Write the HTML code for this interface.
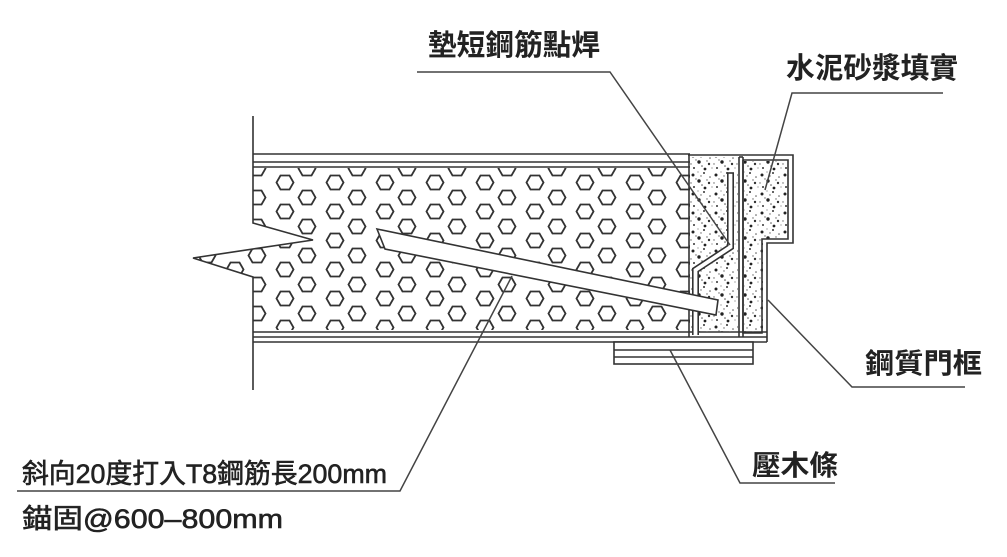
<!DOCTYPE html>
<html><head><meta charset="utf-8"><style>
html,body{margin:0;padding:0;background:#fff;}
svg{display:block;}
text{font-family:"Liberation Sans","Noto Sans CJK TC","Noto Sans CJK SC",sans-serif;fill:#222;}
</style></head><body>
<svg width="1007" height="557" viewBox="0 0 1007 557" xmlns="http://www.w3.org/2000/svg">
<defs>
<pattern id="hex" patternUnits="userSpaceOnUse" x="257" y="168.5" width="50" height="29">
<polygon points="20.5,7 29.5,7 33.5,14 29.5,21 20.5,21 16.5,14" fill="none" stroke="#333" stroke-width="1.8" transform="translate(3,0)"/>
<polygon points="-4.5,-7 4.5,-7 8.5,0 4.5,7 -4.5,7 -8.5,0" fill="none" stroke="#333" stroke-width="1.8"/>
<polygon points="45.5,-7 54.5,-7 58.5,0 54.5,7 45.5,7 41.5,0" fill="none" stroke="#333" stroke-width="1.8"/>
<polygon points="-4.5,22 4.5,22 8.5,29 4.5,36 -4.5,36 -8.5,29" fill="none" stroke="#333" stroke-width="1.8"/>
<polygon points="45.5,22 54.5,22 58.5,29 54.5,36 45.5,36 41.5,29" fill="none" stroke="#333" stroke-width="1.8"/>
</pattern>
<pattern id="dots" patternUnits="userSpaceOnUse" width="23" height="19">
<circle cx="3" cy="4" r="1.5" fill="#222"/><circle cx="14" cy="2" r="1" fill="#333"/>
<circle cx="9" cy="10" r="1.7" fill="#222"/><circle cx="19" cy="12" r="1.2" fill="#333"/>
<circle cx="4" cy="16" r="1" fill="#333"/><circle cx="15" cy="17" r="1.4" fill="#222"/>
<circle cx="20" cy="6" r="0.8" fill="#555"/><circle cx="11" cy="5" r="0.7" fill="#666"/>
<circle cx="6" cy="8" r="0.7" fill="#666"/><circle cx="17" cy="9" r="0.7" fill="#666"/>
<circle cx="12" cy="14" r="0.8" fill="#555"/><circle cx="1" cy="12" r="0.7" fill="#666"/>
<circle cx="8" cy="1" r="0.6" fill="#777"/><circle cx="22" cy="16" r="0.6" fill="#777"/>
</pattern>
</defs>

<polygon points="253,168 690,168 690,330 253,330 253,277 193,258 313,240 253,223" fill="url(#hex)" stroke="none"/>
<polyline points="253,116 253,223 313,240 193,258 253,277 253,390" fill="none" stroke="#333" stroke-width="1.6"/>

<g stroke="#333" stroke-width="1.6">
<line x1="253" y1="154" x2="690" y2="154"/>
<line x1="253" y1="162" x2="690" y2="162"/>
<line x1="253" y1="167" x2="690" y2="167"/>
<line x1="253" y1="332" x2="767" y2="332"/>
<line x1="253" y1="337" x2="767" y2="337"/>
<line x1="253" y1="342" x2="767" y2="342"/>
</g>

<rect x="689" y="157" width="49" height="175" fill="url(#dots)"/>
<polygon points="744,161 788,161 788,239 763,239 763,332 744,332" fill="url(#dots)"/>

<g fill="none" stroke="#333" stroke-width="1.6">
<line x1="689" y1="154" x2="689" y2="337"/>
<polyline points="688,155 793,155 793,243 767,243 767,342"/>
<polyline points="743,160 788,160 788,239 762,239 762,333 743,333 743,160"/>
<line x1="739" y1="157" x2="739" y2="337"/>
<line x1="743" y1="157" x2="743" y2="337"/>
<line x1="739" y1="157" x2="743" y2="157"/>
</g>
<polyline points="730.5,173 730.5,247 695.5,270 695.5,335" fill="none" stroke="#333" stroke-width="7"/>
<polyline points="730.5,173 730.5,247 695.5,270 695.5,335" fill="none" stroke="#fff" stroke-width="3.8"/>
<line x1="727" y1="173" x2="734" y2="173" stroke="#333" stroke-width="1.6"/>

<polygon points="377,229 718,300 716,315 385,249" fill="#fff" stroke="#333" stroke-width="1.6"/>

<g stroke="#333" stroke-width="1.6" fill="none">
<rect x="614" y="342" width="139" height="22" fill="#fff"/>
<line x1="614" y1="350" x2="753" y2="350"/>
<line x1="614" y1="357" x2="753" y2="357"/>
</g>

<g fill="none" stroke="#444" stroke-width="1.5">
<polyline points="417,72 610,72 730,245"/>
<polyline points="943,93 792,93 765,190"/>
<polyline points="965,387 852,387 768,300"/>
<polyline points="835,483 740,483 670,350"/>
<polyline points="17,491 400,491 512,276"/>
</g>

<text x="428" y="55" font-size="29" font-weight="bold" textLength="172" lengthAdjust="spacingAndGlyphs">墊短鋼筋點焊</text>
<text x="786" y="78" font-size="29" font-weight="bold" textLength="172" lengthAdjust="spacingAndGlyphs">水泥砂漿填實</text>
<text x="865" y="373" font-size="28" font-weight="bold" textLength="117" lengthAdjust="spacingAndGlyphs">鋼質門框</text>
<text x="752" y="475" font-size="28" font-weight="bold" textLength="86" lengthAdjust="spacingAndGlyphs">壓木條</text>
<text x="22" y="483" font-size="27" stroke="#222" stroke-width="0.6" textLength="365" lengthAdjust="spacingAndGlyphs">斜向20度打入T8鋼筋長200mm</text>
<text x="22" y="528" font-size="27" stroke="#222" stroke-width="0.6" textLength="261" lengthAdjust="spacingAndGlyphs">錨固@600–800mm</text>
</svg>
</body></html>
